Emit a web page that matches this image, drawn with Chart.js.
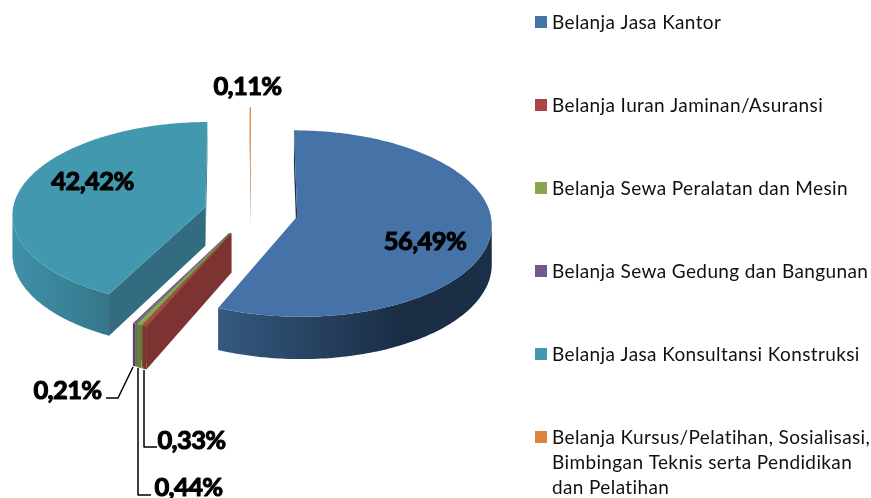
<!DOCTYPE html>
<html><head><meta charset="utf-8">
<style>html,body{margin:0;padding:0;background:#fff}canvas{display:block}</style>
<script src="https://cdn.jsdelivr.net/npm/chart.js@4"></script>
</head><body><canvas id="c" width="871" height="498"></canvas>
<script>
const categories = [
  ["Belanja Jasa Kantor"],
  ["Belanja Iuran Jaminan/Asuransi"],
  ["Belanja Sewa Peralatan dan Mesin"],
  ["Belanja Sewa Gedung dan Bangunan"],
  ["Belanja Jasa Konsultansi Konstruksi"],
  ["Belanja Kursus/Pelatihan, Sosialisasi,","Bimbingan Teknis serta Pendidikan","dan Pelatihan"]
];
const values = [56.49, 0.33, 0.44, 0.21, 42.42, 0.11];
const colors = ["#4572A7","#AA4643","#89A54E","#71588F","#4198AF","#DB843D"];
const cutWall = ["#1E3450","#7D3331","#66803A","#54416B","#336C80","#A4622D"];
const outerWall = [
  [[220,"#35597F"],[400,"#1A2D45"],[490,"#1B2F47"]],
  [[130,"#7D3331"],[150,"#7D3331"]],
  [[130,"#66803A"],[150,"#66803A"]],
  [[130,"#54416B"],[150,"#54416B"]],
  [[14,"#3F90A8"],[108,"#35778B"]],
  [[240,"#A4622D"],[260,"#A4622D"]]
];
const drawOrder = [5,4,3,2,1,0];
const explode = 47;
const pieRadius = 193;
const persp = 0.075, squash = 92, thick = 39;

function fmt(v){ return v.toFixed(2).replace('.',',') + '%'; }

const pie3d = {
  id:'pie3d',
  beforeDatasetDraw(chart){
    const ctx = chart.ctx, arcs = chart.getDatasetMeta(0).data;
    drawOrder.forEach(i=>{
      const el = arcs[i];
      const p = el.getProps(['x','y','startAngle','endAngle','outerRadius'],true);
      const off = el.options.offset, mid = (p.startAngle+p.endAngle)/2;
      const ox = Math.cos(mid)*off, oy = Math.sin(mid)*off, R = p.outerRadius;
      const proj = (lx,ly,z)=>{
        const v = ly/R, s = 1/(1-persp*v);
        return [p.x+lx*s, p.y+(squash*v+z)*s];
      };
      const n = Math.max(2,Math.ceil((p.endAngle-p.startAngle)*180/Math.PI));
      const rim = [];
      for(let k=0;k<=n;k++){
        const a = p.startAngle+(p.endAngle-p.startAngle)*k/n;
        rim.push([ox+Math.cos(a)*R, oy+Math.sin(a)*R]);
      }
      const apex = [ox,oy];
      const quad = (a,b,fill)=>{
        const A0=proj(a[0],a[1],0),B0=proj(b[0],b[1],0),B1=proj(b[0],b[1],thick),A1=proj(a[0],a[1],thick);
        if(B0[0]-A0[0]>=0) return;
        ctx.beginPath();ctx.moveTo(...A0);ctx.lineTo(...B0);ctx.lineTo(...B1);ctx.lineTo(...A1);ctx.closePath();
        ctx.fillStyle=fill;ctx.fill();
      };
      quad(rim[n],apex,cutWall[i]);
      quad(apex,rim[0],cutWall[i]);
      const g = ctx.createLinearGradient(outerWall[i][0][0],0,outerWall[i][outerWall[i].length-1][0],0);
      const x0=outerWall[i][0][0],x1=outerWall[i][outerWall[i].length-1][0];
      outerWall[i].forEach(s=>g.addColorStop((s[0]-x0)/(x1-x0),s[1]));
      let run=[];
      const flush=()=>{
        if(run.length<2){run=[];return;}
        ctx.beginPath();
        run.forEach((q,j)=>{const t=proj(q[0],q[1],0); j?ctx.lineTo(...t):ctx.moveTo(...t);});
        run.slice().reverse().forEach(q=>ctx.lineTo(...proj(q[0],q[1],thick)));
        ctx.closePath();ctx.fillStyle=g;ctx.fill();run=[];
      };
      for(let k=0;k<n;k++){
        const A=proj(rim[k][0],rim[k][1],0),B=proj(rim[k+1][0],rim[k+1][1],0);
        if(B[0]-A[0]<0){ if(!run.length) run.push(rim[k]); run.push(rim[k+1]); } else flush();
      }
      flush();
      ctx.beginPath();ctx.moveTo(...proj(apex[0],apex[1],0));
      rim.forEach(q=>ctx.lineTo(...proj(q[0],q[1],0)));
      ctx.closePath();ctx.fillStyle=el.options.backgroundColor;ctx.fill();
    });
    return false;
  },
  afterDraw(chart){
    const ctx = chart.ctx;
    ctx.save();
    // data labels
    const spots = [[425,242],[191.5,441],[188.5,488],[67.5,391],[92.5,182],[247.5,87]];
    ctx.textAlign='center';ctx.textBaseline='middle';
    ctx.font='bold 25.5px Lato';ctx.fillStyle='#000';ctx.strokeStyle='#000';ctx.lineWidth=1.1;ctx.lineJoin='round';
    ctx.letterSpacing='-0.6px';
    values.forEach((v,i)=>{
      ctx.fillText(fmt(v),spots[i][0],spots[i][1]);
      ctx.strokeText(fmt(v),spots[i][0],spots[i][1]);
    });
    ctx.letterSpacing='0px';
    // leader lines
    ctx.lineWidth=1.5;ctx.strokeStyle='#000';
    [[[144,370],[144,447],[157,447]],[[138,368],[138,495],[151,495]],[[133,367],[118,398],[106,398]]].forEach(l=>{
      ctx.beginPath();l.forEach((q,j)=>j?ctx.lineTo(...q):ctx.moveTo(...q));ctx.stroke();
    });
    // legend
    ctx.textAlign='left';ctx.textBaseline='middle';
    ctx.font='19px Lato';ctx.letterSpacing='0.38px';
    categories.forEach((lines,i)=>{
      const y=22+83*i;
      ctx.fillStyle=colors[i];ctx.fillRect(535,y-6,12,12);
      ctx.fillStyle='#111';
      lines.forEach((t,j)=>ctx.fillText(t,552,y+1+25*j));
    });
    ctx.restore();
  }
};

new Chart(document.getElementById('c'),{
  type:'pie',
  data:{labels:categories.map(l=>l.join(' ')),datasets:[{data:values,backgroundColor:colors,borderWidth:0,offset:explode}]},
  options:{
    responsive:false,animation:false,radius:pieRadius,
    layout:{padding:{left:0,top:0,right:369,bottom:74}},
    plugins:{legend:{display:false},tooltip:{enabled:false}}
  },
  plugins:[pie3d]
});
</script></body></html>
